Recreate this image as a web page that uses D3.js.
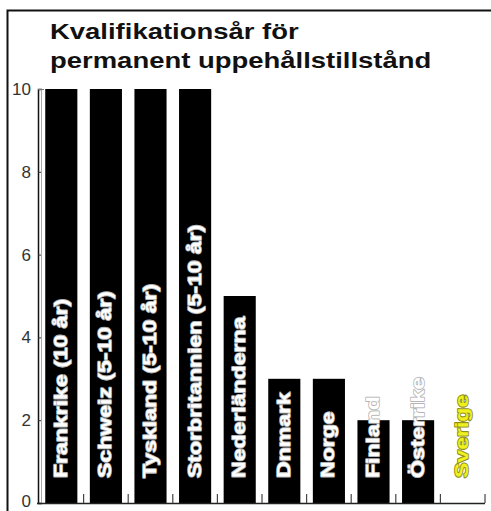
<!DOCTYPE html>
<html>
<head>
<meta charset="utf-8">
<script src="https://cdn.jsdelivr.net/npm/d3@7"></script>
<style>
  html, body { margin: 0; padding: 0; background: #ffffff; }
  svg { display: block; }
</style>
</head>
<body>
<svg id="chart" width="491" height="511"></svg>
<script>
// ---- data ----
const titleLines = ["Kvalifikationsår för", "permanent uppehållstillstånd"];
const categories = ["Frankrike (10 år)", "Schweiz (5-10 år)", "Tyskland (5-10 år)", "Storbritannien (5-10 år)",
                    "Nederländerna", "Dnmark", "Norge", "Finland", "Österrike", "Sverige"];
const values = [10, 10, 10, 10, 5, 3, 3, 2, 2, 0];
const yTicks = [0, 2, 4, 6, 8, 10];

(function () {
// ---- layout ----
const svg = d3.select("#chart");
const mLeft = 38, mRight = 485, mTop = 89, mBottom = 503;

// outer frame
svg.append("rect")
  .attr("x", 7.5).attr("y", 10.5).attr("width", 520).attr("height", 600)
  .attr("fill", "none").attr("stroke", "#111").attr("stroke-width", 2);

// title
const titleBase = [39, 68];
titleLines.forEach((t, i) => {
  const el = svg.append("text")
    .attr("x", 50).attr("y", titleBase[i])
    .attr("font-family", "Liberation Sans, Arial, sans-serif")
    .attr("font-weight", "bold").attr("font-size", 22.5)
    .attr("fill", "#111").text(t);
  const w = el.node().getComputedTextLength();
  el.attr("textLength", w * 1.22).attr("lengthAdjust", "spacingAndGlyphs");
});

const x = d3.scaleBand().domain(categories).range([mLeft + 1, mRight])
  .paddingInner(0.28).paddingOuter(0.14);
const y = d3.scaleLinear().domain([0, 10]).range([mBottom, mTop]);

// bars
svg.selectAll("rect.bar").data(values).join("rect")
  .attr("class", "bar")
  .attr("x", (d, i) => x(categories[i]))
  .attr("width", x.bandwidth())
  .attr("y", d => y(d))
  .attr("height", d => y(0) - y(d))
  .attr("fill", "#000");

// y axis
const yAxis = d3.axisLeft(y).tickValues(yTicks).tickSize(-4).tickPadding(7).tickFormat(d3.format("d"));
const gy = svg.append("g").attr("transform", `translate(${mLeft},0)`).call(yAxis);
gy.select(".domain").attr("stroke", "#111").attr("stroke-width", 1.5);
gy.selectAll(".tick line").attr("stroke", "#333");
gy.selectAll(".tick text")
  .attr("font-family", "Liberation Sans, Arial, sans-serif")
  .attr("font-size", 17).attr("fill", "#333")
  .attr("dy", d => d === 0 ? "0.2em" : "0.32em");

// faint inner line next to the y axis
svg.append("line").attr("x1", mLeft + 3.5).attr("x2", mLeft + 3.5)
  .attr("y1", y(10)).attr("y2", y(0)).attr("stroke", "#aaa").attr("stroke-width", 1);
svg.append("line").attr("x1", mLeft).attr("x2", mLeft + 6)
  .attr("y1", y(10) + 0.5).attr("y2", y(10) + 0.5).attr("stroke", "#777").attr("stroke-width", 1);

// x axis with boundary ticks
const boundary = d3.range(categories.length + 1).map(i => x.range()[0] + i * x.step());
svg.append("line").attr("x1", mLeft - 1).attr("x2", mRight)
  .attr("y1", mBottom + 0.5).attr("y2", mBottom + 0.5).attr("stroke", "#222").attr("stroke-width", 1.5);
svg.selectAll("line.xt").data(boundary.slice(1)).join("line")
  .attr("class", "xt")
  .attr("x1", d => d).attr("x2", d => d)
  .attr("y1", mBottom).attr("y2", mBottom - 9)
  .attr("stroke", "#444").attr("stroke-width", 1.2);

// rotated labels
const last = categories.length - 1;
const lab = svg.selectAll("text.lab").data(categories).join("text")
  .attr("class", "lab")
  .attr("transform", d => `translate(${x(d) + x.bandwidth() / 2 - 1},${mBottom - 25}) rotate(-90)`)
  .attr("dy", "0.36em")
  .attr("font-family", "Liberation Sans, Arial, sans-serif")
  .attr("font-weight", "bold").attr("font-size", 18)
  .attr("paint-order", "stroke")
  .attr("stroke-linejoin", "round")
  .attr("fill", (d, i) => i === last ? "#f0f020" : "#ffffff")
  .attr("stroke", (d, i) => i === last ? "#8f8f18" : "#b4b4b4")
  .attr("stroke-width", (d, i) => i === last ? 1.8 : 1.6)
  .text(d => d);
lab.each(function () {
  const w = this.getComputedTextLength();
  d3.select(this).attr("textLength", w * 1.28).attr("lengthAdjust", "spacingAndGlyphs");
});
})();
</script>
</body>
</html>
